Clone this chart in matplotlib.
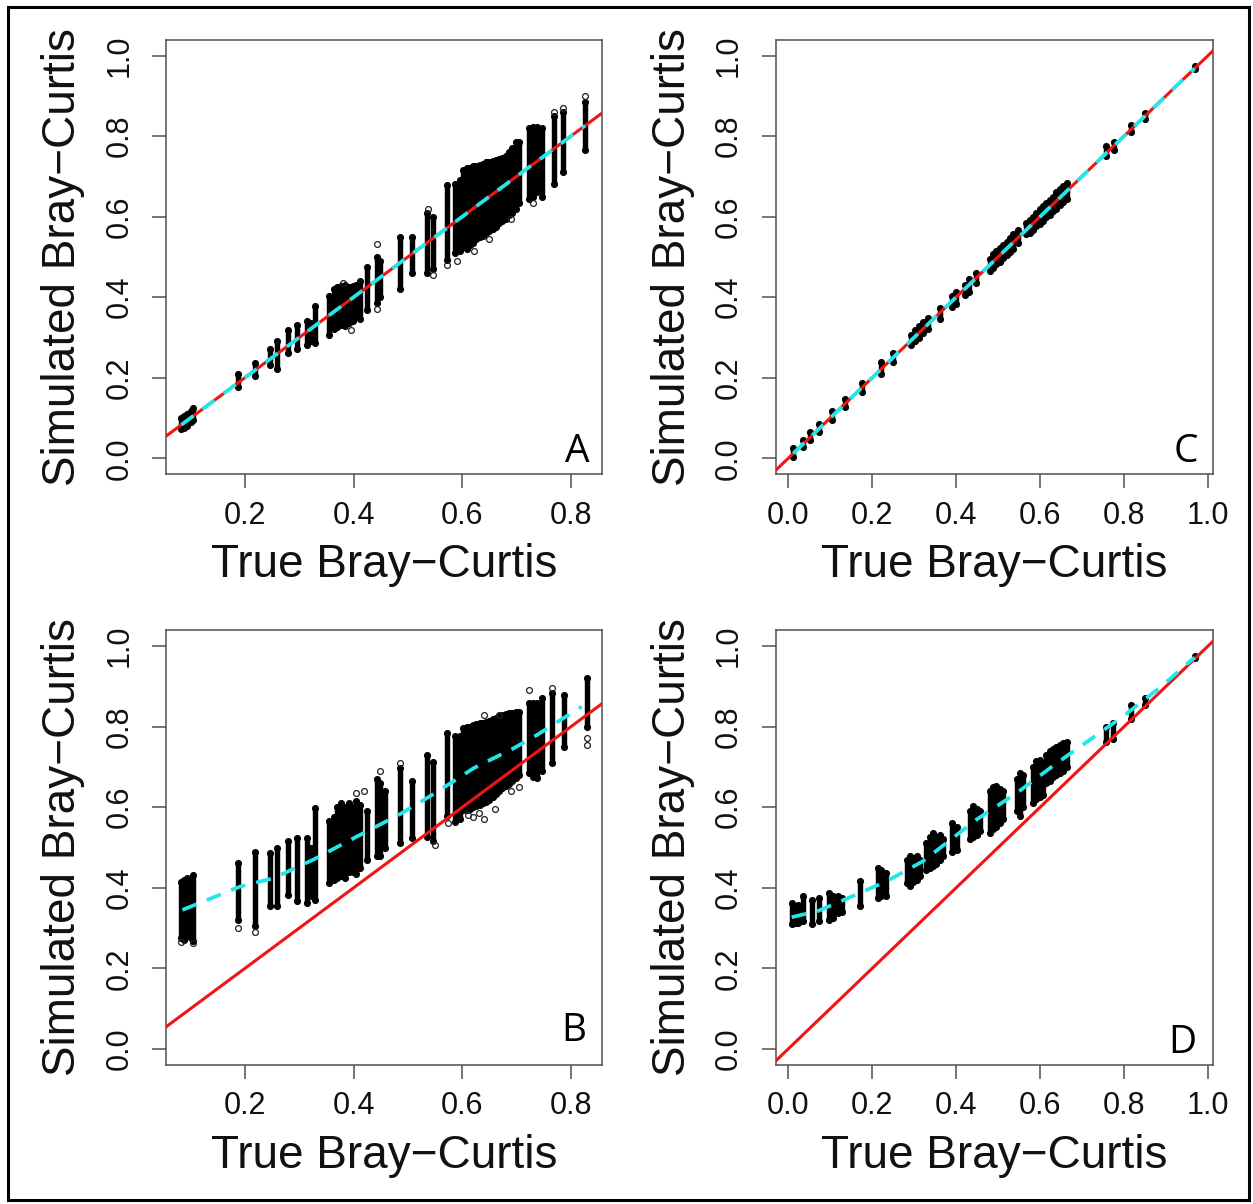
import matplotlib
matplotlib.use('Agg')
import matplotlib.pyplot as plt
from matplotlib.patches import Rectangle

# ---------------- data ----------------
# Panel A: strips of simulated values at each true value (x, low, high)
A_x  = [0.083, 0.088, 0.093, 0.100, 0.105, 0.188, 0.219, 0.247, 0.259, 0.280, 0.296, 0.314, 0.321, 0.329,
        0.354, 0.363, 0.370, 0.377, 0.384, 0.391, 0.398, 0.405, 0.412, 0.424, 0.443, 0.449, 0.486, 0.507,
        0.535, 0.547, 0.571, 0.587, 0.596, 0.602, 0.608, 0.614, 0.620, 0.626, 0.632, 0.638, 0.644, 0.650,
        0.656, 0.662, 0.668, 0.674, 0.680, 0.686, 0.692, 0.698, 0.704, 0.722, 0.730, 0.738, 0.746, 0.768,
        0.786, 0.826]
A_lo = [0.072, 0.075, 0.080, 0.090, 0.095, 0.176, 0.203, 0.232, 0.222, 0.262, 0.270, 0.282, 0.290, 0.286,
        0.307, 0.320, 0.325, 0.330, 0.328, 0.335, 0.340, 0.350, 0.345, 0.368, 0.385, 0.400, 0.420, 0.460,
        0.460, 0.470, 0.492, 0.509, 0.515, 0.525, 0.520, 0.530, 0.535, 0.545, 0.550, 0.552, 0.560, 0.565,
        0.570, 0.575, 0.585, 0.590, 0.595, 0.605, 0.610, 0.620, 0.635, 0.645, 0.650, 0.660, 0.650, 0.682,
        0.710, 0.765]
A_hi = [0.100, 0.105, 0.110, 0.118, 0.125, 0.208, 0.237, 0.272, 0.290, 0.319, 0.332, 0.340, 0.335, 0.377,
        0.402, 0.420, 0.425, 0.428, 0.430, 0.425, 0.428, 0.430, 0.440, 0.476, 0.500, 0.490, 0.550, 0.550,
        0.608, 0.600, 0.678, 0.682, 0.690, 0.715, 0.720, 0.722, 0.725, 0.725, 0.728, 0.730, 0.735, 0.735,
        0.738, 0.740, 0.742, 0.745, 0.750, 0.760, 0.770, 0.785, 0.785, 0.820, 0.822, 0.823, 0.820, 0.851,
        0.860, 0.885]
A_out_x = [0.826, 0.786, 0.768, 0.443, 0.443, 0.571, 0.590, 0.536, 0.547, 0.622, 0.650, 0.690, 0.730, 0.380, 0.396]
A_out_y = [0.900, 0.870, 0.860, 0.533, 0.370, 0.480, 0.490, 0.620, 0.455, 0.515, 0.545, 0.595, 0.635, 0.435, 0.318]
A_fit_x = [0.083, 0.826]
A_fit_y = [0.083, 0.826]

# Panel B
B_x  = [0.083, 0.088, 0.093, 0.100, 0.105, 0.188, 0.219, 0.247, 0.259, 0.280, 0.296, 0.314, 0.321, 0.329,
        0.354, 0.363, 0.370, 0.377, 0.384, 0.391, 0.398, 0.405, 0.412, 0.424, 0.443, 0.449, 0.457, 0.486,
        0.507, 0.535, 0.547, 0.571, 0.587, 0.596, 0.602, 0.608, 0.614, 0.620, 0.626, 0.632, 0.638, 0.644,
        0.650, 0.656, 0.662, 0.668, 0.674, 0.680, 0.686, 0.692, 0.698, 0.704, 0.722, 0.730, 0.738, 0.746,
        0.765, 0.787, 0.829]
B_lo = [0.275, 0.270, 0.280, 0.275, 0.268, 0.321, 0.305, 0.354, 0.354, 0.383, 0.366, 0.362, 0.380, 0.370,
        0.412, 0.420, 0.425, 0.430, 0.425, 0.440, 0.440, 0.435, 0.450, 0.470, 0.478, 0.480, 0.500, 0.511,
        0.524, 0.527, 0.515, 0.577, 0.564, 0.570, 0.594, 0.592, 0.596, 0.600, 0.603, 0.606, 0.610, 0.612,
        0.618, 0.625, 0.632, 0.640, 0.648, 0.652, 0.658, 0.665, 0.672, 0.680, 0.685, 0.676, 0.672, 0.690,
        0.709, 0.750, 0.800]
B_hi = [0.415, 0.420, 0.425, 0.420, 0.432, 0.462, 0.490, 0.486, 0.498, 0.515, 0.523, 0.523, 0.500, 0.597,
        0.565, 0.575, 0.600, 0.610, 0.600, 0.610, 0.600, 0.615, 0.605, 0.590, 0.670, 0.660, 0.640, 0.697,
        0.664, 0.730, 0.713, 0.784, 0.776, 0.776, 0.796, 0.798, 0.800, 0.803, 0.806, 0.808, 0.810, 0.812,
        0.815, 0.818, 0.822, 0.826, 0.829, 0.831, 0.833, 0.835, 0.837, 0.837, 0.858, 0.860, 0.858, 0.870,
        0.883, 0.879, 0.920]
B_out_x = [0.620, 0.640, 0.660, 0.690, 0.705, 0.610, 0.630, 0.573, 0.550, 0.449, 0.486, 0.640, 0.668,
           0.722, 0.765, 0.829, 0.829, 0.188, 0.219, 0.105, 0.083, 0.405, 0.420]
B_out_y = [0.575, 0.570, 0.595, 0.640, 0.650, 0.580, 0.585, 0.560, 0.505, 0.690, 0.710, 0.830, 0.830,
           0.890, 0.895, 0.772, 0.755, 0.300, 0.290, 0.262, 0.265, 0.635, 0.640]
B_fit_x = [0.085, 0.191, 0.253, 0.326, 0.400, 0.483, 0.550, 0.621, 0.694, 0.737, 0.820]
B_fit_y = [0.345, 0.403, 0.424, 0.470, 0.523, 0.581, 0.635, 0.697, 0.746, 0.779, 0.850]

# Panel C
C_x  = [0.012, 0.036, 0.052, 0.074, 0.103, 0.135, 0.175, 0.222, 0.250, 0.292, 0.302, 0.312, 0.322, 0.334,
        0.361, 0.389, 0.400, 0.420, 0.430, 0.448, 0.480, 0.488, 0.496, 0.504, 0.512, 0.520, 0.528, 0.536,
        0.548, 0.567, 0.575, 0.583, 0.591, 0.599, 0.607, 0.615, 0.623, 0.631, 0.639, 0.647, 0.655, 0.663,
        0.758, 0.775, 0.817, 0.849, 0.968]
C_lo = [0.002, 0.028, 0.044, 0.064, 0.094, 0.126, 0.164, 0.210, 0.240, 0.280, 0.290, 0.298, 0.310, 0.322,
        0.346, 0.376, 0.384, 0.406, 0.412, 0.434, 0.466, 0.472, 0.482, 0.488, 0.498, 0.504, 0.512, 0.520,
        0.534, 0.556, 0.560, 0.568, 0.576, 0.582, 0.590, 0.598, 0.605, 0.614, 0.620, 0.628, 0.636, 0.644,
        0.750, 0.765, 0.810, 0.842, 0.966]
C_hi = [0.025, 0.044, 0.066, 0.086, 0.118, 0.148, 0.188, 0.238, 0.262, 0.305, 0.318, 0.328, 0.338, 0.348,
        0.372, 0.404, 0.414, 0.430, 0.445, 0.460, 0.494, 0.506, 0.514, 0.522, 0.530, 0.538, 0.548, 0.556,
        0.568, 0.585, 0.592, 0.600, 0.610, 0.618, 0.626, 0.634, 0.642, 0.650, 0.660, 0.668, 0.676, 0.684,
        0.775, 0.785, 0.828, 0.858, 0.974]
C_fit_x = [0.012, 0.968]
C_fit_y = [0.012, 0.968]

# Panel D
D_x  = [0.008, 0.016, 0.024, 0.036, 0.056, 0.072, 0.097, 0.107, 0.119, 0.127, 0.170, 0.214, 0.222, 0.234,
        0.282, 0.290, 0.298, 0.306, 0.313, 0.329, 0.337, 0.345, 0.353, 0.361, 0.369, 0.389, 0.401, 0.433,
        0.441, 0.449, 0.456, 0.480, 0.488, 0.496, 0.504, 0.512, 0.544, 0.552, 0.560, 0.583, 0.591, 0.599,
        0.607, 0.615, 0.623, 0.631, 0.639, 0.647, 0.655, 0.663, 0.758, 0.774, 0.817, 0.849, 0.968]
D_lo = [0.309, 0.312, 0.313, 0.317, 0.309, 0.317, 0.320, 0.325, 0.337, 0.340, 0.354, 0.375, 0.380, 0.379,
        0.412, 0.405, 0.415, 0.420, 0.430, 0.445, 0.450, 0.455, 0.460, 0.470, 0.480, 0.490, 0.495, 0.520,
        0.525, 0.530, 0.540, 0.536, 0.545, 0.550, 0.560, 0.570, 0.590, 0.577, 0.600, 0.610, 0.620, 0.625,
        0.630, 0.660, 0.665, 0.675, 0.680, 0.685, 0.690, 0.700, 0.763, 0.770, 0.820, 0.854, 0.970]
D_hi = [0.362, 0.355, 0.358, 0.379, 0.370, 0.375, 0.387, 0.380, 0.379, 0.375, 0.416, 0.449, 0.445, 0.437,
        0.470, 0.478, 0.475, 0.478, 0.470, 0.510, 0.525, 0.536, 0.525, 0.530, 0.520, 0.561, 0.550, 0.590,
        0.602, 0.595, 0.590, 0.640, 0.650, 0.652, 0.645, 0.640, 0.670, 0.685, 0.680, 0.700, 0.715, 0.718,
        0.710, 0.730, 0.740, 0.745, 0.750, 0.755, 0.760, 0.763, 0.800, 0.808, 0.854, 0.870, 0.976]
D_fit_x = [0.008, 0.070, 0.115, 0.170, 0.234, 0.321, 0.448, 0.544, 0.639, 0.718, 0.797, 0.889, 0.968]
D_fit_y = [0.327, 0.342, 0.362, 0.387, 0.416, 0.466, 0.569, 0.635, 0.709, 0.767, 0.825, 0.900, 0.972]

Y_TICKS = [0.0, 0.2, 0.4, 0.6, 0.8, 1.0]
X_TICKS_AB = [0.2, 0.4, 0.6, 0.8]
X_TICKS_CD = [0.0, 0.2, 0.4, 0.6, 0.8, 1.0]
XLABEL = "True Bray\u2212Curtis"
YLABEL = "Simulated Bray\u2212Curtis"

# ---------------- figure ----------------
W, H = 1253, 1204
fig = plt.figure(figsize=(W / 100, H / 100), dpi=100)
fig.patch.set_facecolor('white')

def rect(l, r, t, b):
    return [l / W, 1 - b / H, (r - l) / W, (b - t) / H]

FONT = 'Liberation Sans'
RED = '#f01414'
CYAN = '#22e6ea'
BOX = '#505050'

panels = [
    dict(pos=rect(166.5, 601.7, 39.5, 474.3), xlim=(0.0556, 0.8566), xt=X_TICKS_AB, letter='A',
         lpos=(0.973, 0.029), x=A_x, lo=A_lo, hi=A_hi, ox=A_out_x, oy=A_out_y, fx=A_fit_x, fy=A_fit_y),
    dict(pos=rect(776, 1213, 39.5, 474.3), xlim=(-0.0293, 1.012), xt=X_TICKS_CD, letter='C',
         lpos=(0.966, 0.029), x=C_x, lo=C_lo, hi=C_hi, ox=[], oy=[], fx=C_fit_x, fy=C_fit_y),
    dict(pos=rect(166.5, 601.7, 630, 1065), xlim=(0.0556, 0.8566), xt=X_TICKS_AB, letter='B',
         lpos=(0.9655, 0.056), x=B_x, lo=B_lo, hi=B_hi, ox=B_out_x, oy=B_out_y, fx=B_fit_x, fy=B_fit_y),
    dict(pos=rect(776, 1213, 630, 1065), xlim=(-0.0293, 1.012), xt=X_TICKS_CD, letter='D',
         lpos=(0.963, 0.028), x=D_x, lo=D_lo, hi=D_hi, ox=[], oy=[], fx=D_fit_x, fy=D_fit_y),
]

for p in panels:
    ax = fig.add_axes(p['pos'])
    ax.set_xlim(*p['xlim'])
    ax.set_ylim(-0.04, 1.04)
    # strips of points
    ax.vlines(p['x'], p['lo'], p['hi'], colors='black', lw=3.9, capstyle='round', zorder=2)
    ax.plot(p['x'], p['lo'], 'o', mfc='none', mec='black', ms=4.2, mew=0.9, zorder=2)
    ax.plot(p['x'], p['hi'], 'o', mfc='none', mec='black', ms=4.2, mew=0.9, zorder=2)
    if p['ox']:
        ax.plot(p['ox'], p['oy'], 'o', mfc='none', mec='#222222', ms=4.2, mew=0.9, zorder=2)
    # identity line
    ax.axline((0, 0), slope=1, color=RED, lw=2.2, zorder=3)
    # fitted line
    ax.plot(p['fx'], p['fy'], color=CYAN, lw=2.7, ls=(0, (4, 3)), zorder=4)

    ax.set_xticks(p['xt'])
    ax.set_xticklabels([f"{v:.1f}" for v in p['xt']], fontfamily=FONT)
    ax.set_yticks(Y_TICKS)
    ax.set_yticklabels([f"{v:.1f}" for v in Y_TICKS], fontfamily=FONT, rotation=90, va='center')
    ax.tick_params(axis='both', direction='out', length=10, width=1.1, color=BOX,
                   labelsize=22, labelcolor='#111111')
    ax.tick_params(axis='x', pad=9)
    ax.tick_params(axis='y', pad=13)
    for s in ax.spines.values():
        s.set_color(BOX)
        s.set_linewidth(1.1)
    ax.set_xlabel(XLABEL, fontsize=33, fontfamily=FONT, color='#111111', labelpad=9)
    ax.set_ylabel(YLABEL, fontsize=33, fontfamily=FONT, color='#111111', labelpad=14)
    ax.text(p['lpos'][0], p['lpos'][1], p['letter'], transform=ax.transAxes, ha='right', va='baseline',
            fontsize=28, fontfamily='Open Sans', color='black')

# outer frame
fig.add_artist(Rectangle((8 / W, 1 - 1200 / H), (1249 - 8) / W, (1200 - 7) / H,
                         transform=fig.transFigure, fill=False, ec='black', lw=2.2))

fig.savefig('out.png', dpi=100, facecolor='white')
